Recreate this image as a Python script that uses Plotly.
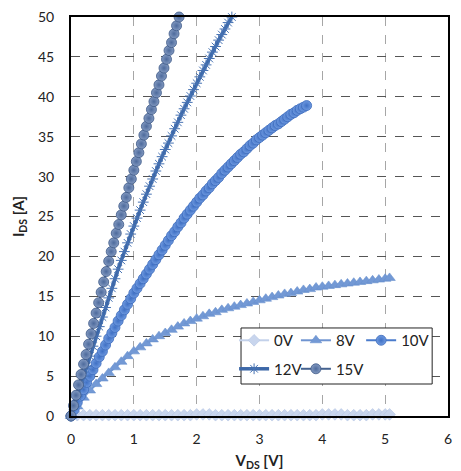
import plotly.graph_objects as go

# Output characteristics I_DS(V_DS) for several gate voltages

# V_GS = 0 V (off state, leakage only)
v_0v = [0.0, 0.1, 0.2, 0.3, 0.4, 0.5, 0.6, 0.7, 0.8, 0.9, 1.0, 1.1, 1.2, 1.3, 1.4, 1.5,
        1.6, 1.7, 1.8, 1.9, 2.0, 2.1, 2.2, 2.3, 2.4, 2.5, 2.6, 2.7, 2.8, 2.9, 3.0, 3.1,
        3.2, 3.3, 3.4, 3.5, 3.6, 3.7, 3.8, 3.9, 4.0, 4.1, 4.2, 4.3, 4.4, 4.5, 4.6, 4.7,
        4.8, 4.9, 5.0, 5.07]
i_0v = [0.0, 0.1, 0.1, 0.1, 0.1, 0.1, 0.1, 0.1, 0.1, 0.1, 0.1, 0.1, 0.1, 0.1, 0.1, 0.1,
        0.1, 0.1, 0.1, 0.1, 0.2, 0.2, 0.2, 0.1, 0.1, 0.1, 0.1, 0.1, 0.1, 0.1, 0.1, 0.1,
        0.1, 0.1, 0.1, 0.1, 0.1, 0.1, 0.1, 0.1, 0.2, 0.2, 0.2, 0.2, 0.1, 0.1, 0.1, 0.1,
        0.2, 0.2, 0.2, 0.2]

# V_GS = 8 V
v_8v = [0.0, 0.1, 0.2, 0.3, 0.4, 0.5, 0.6, 0.7, 0.8, 0.9, 1.0, 1.1, 1.2, 1.3, 1.4, 1.5,
        1.6, 1.7, 1.8, 1.9, 2.0, 2.1, 2.2, 2.3, 2.4, 2.5, 2.6, 2.7, 2.8, 2.9, 3.0, 3.1,
        3.2, 3.3, 3.4, 3.5, 3.6, 3.7, 3.8, 3.9, 4.0, 4.1, 4.2, 4.3, 4.4, 4.5, 4.6, 4.7,
        4.8, 4.9, 5.0, 5.07]
i_8v = [0.0, 1.2, 2.3, 3.2, 4.0, 4.7, 5.4, 6.1, 6.8, 7.5, 8.1, 8.6, 9.1, 9.6, 10.0, 10.4,
        10.8, 11.2, 11.6, 11.9, 12.2, 12.5, 12.8, 13.0, 13.3, 13.5, 13.7, 13.9, 14.1, 14.3,
        14.5, 14.7, 14.9, 15.1, 15.3, 15.4, 15.6, 15.8, 15.9, 16.1, 16.2, 16.3, 16.4, 16.5,
        16.6, 16.7, 16.8, 16.9, 17.0, 17.1, 17.2, 17.3]

# V_GS = 10 V
v_10v = [0.00, 0.05, 0.10, 0.15, 0.20, 0.25, 0.30, 0.35, 0.40, 0.45, 0.50, 0.55, 0.60,
         0.65, 0.70, 0.75, 0.80, 0.85, 0.90, 0.95, 1.00, 1.05, 1.10, 1.15, 1.20, 1.25,
         1.30, 1.35, 1.40, 1.45, 1.50, 1.55, 1.60, 1.65, 1.70, 1.75, 1.80, 1.85, 1.90,
         1.95, 2.00, 2.05, 2.10, 2.15, 2.20, 2.25, 2.30, 2.35, 2.40, 2.45, 2.50, 2.55,
         2.60, 2.65, 2.70, 2.75, 2.80, 2.85, 2.90, 2.95, 3.00, 3.05, 3.10, 3.15, 3.20,
         3.25, 3.30, 3.35, 3.40, 3.45, 3.50, 3.55, 3.60, 3.65, 3.70, 3.75]
i_10v = [0.0, 0.8, 1.7, 2.5, 3.3, 4.2, 5.0, 5.8, 6.6, 7.4, 8.1, 8.9, 9.7,
         10.4, 11.1, 11.9, 12.6, 13.3, 14.0, 14.7, 15.4, 16.0, 16.6, 17.2, 17.8, 18.4,
         19.0, 19.6, 20.2, 20.8, 21.4, 22.0, 22.6, 23.1, 23.7, 24.2, 24.8, 25.3, 25.8,
         26.3, 26.8, 27.3, 27.7, 28.2, 28.6, 29.1, 29.5, 29.9, 30.4, 30.8, 31.2, 31.6,
         32.0, 32.4, 32.8, 33.1, 33.5, 33.9, 34.2, 34.6, 34.9, 35.2, 35.5, 35.8, 36.1,
         36.4, 36.6, 36.9, 37.2, 37.5, 37.8, 38.0, 38.3, 38.5, 38.7, 38.9]

# V_GS = 12 V
v_12v = [0.00, 0.05, 0.10, 0.15, 0.20, 0.25, 0.30, 0.35, 0.40, 0.45, 0.50, 0.55, 0.60,
         0.65, 0.70, 0.75, 0.80, 0.85, 0.90, 0.95, 1.00, 1.05, 1.10, 1.15, 1.20, 1.25,
         1.30, 1.35, 1.40, 1.45, 1.50, 1.55, 1.60, 1.65, 1.70, 1.75, 1.80, 1.85, 1.90,
         1.95, 2.00, 2.05, 2.10, 2.15, 2.20, 2.25, 2.30, 2.35, 2.40, 2.45, 2.50, 2.56]
i_12v = [0.0, 1.25, 2.5, 3.75, 5.0, 6.25, 7.5, 8.75, 10.0, 11.2, 12.4, 13.6, 14.8,
         16.0, 17.2, 18.4, 19.5, 20.6, 21.7, 22.8, 23.8, 24.8, 25.8, 26.8, 27.8, 28.8,
         29.7, 30.7, 31.6, 32.5, 33.4, 34.2, 35.1, 36.0, 36.8, 37.7, 38.5, 39.3, 40.1,
         40.9, 41.7, 42.5, 43.3, 44.0, 44.8, 45.6, 46.3, 47.1, 47.8, 48.5, 49.3, 50.0]

# V_GS = 15 V
v_15v = [0.00, 0.04, 0.08, 0.12, 0.16, 0.20, 0.24, 0.28, 0.32, 0.36, 0.40, 0.44, 0.48,
         0.52, 0.56, 0.60, 0.64, 0.68, 0.72, 0.76, 0.80, 0.84, 0.88, 0.92, 0.96, 1.00,
         1.04, 1.08, 1.12, 1.16, 1.20, 1.24, 1.28, 1.32, 1.36, 1.40, 1.44, 1.48, 1.52,
         1.56, 1.60, 1.64, 1.68, 1.72]
i_15v = [0.0, 1.3, 2.6, 3.9, 5.2, 6.5, 7.7, 9.0, 10.3, 11.6, 12.9, 14.2, 15.5,
         16.8, 18.1, 19.4, 20.6, 21.7, 22.9, 24.0, 25.2, 26.3, 27.4, 28.6, 29.7, 30.8,
         31.9, 33.0, 34.1, 35.2, 36.3, 37.3, 38.4, 39.4, 40.5, 41.5, 42.6, 43.6, 44.7,
         45.8, 46.8, 47.9, 48.9, 50.0]

x_ticks = [0, 1, 2, 3, 4, 5, 6]
y_ticks = [0, 5, 10, 15, 20, 25, 30, 35, 40, 45, 50]

FONT = "Lato, 'Liberation Sans', sans-serif"
TEXT = "#222222"

fig = go.Figure()

# legend columns: (0V, 12V) | (8V, 15V) | (10V)
fig.add_trace(go.Scatter(
    x=v_0v, y=i_0v, name="0V", mode="lines+markers", cliponaxis=False,
    legend="legend", legendgroup="g0", legendrank=1,
    line=dict(color="#c3d1ea", width=2),
    marker=dict(symbol="diamond", size=9, color="#c8d5ed",
                line=dict(color="#b3c4e3", width=0.6)),
))
fig.add_trace(go.Scatter(
    x=v_8v, y=i_8v, name="8V", mode="lines+markers", cliponaxis=False,
    legend="legend2", legendgroup="g8", legendrank=1,
    line=dict(color="#6f94d1", width=2),
    marker=dict(symbol="triangle-up", size=10, color="#7399d5",
                line=dict(color="#6890cf", width=0.6)),
))
fig.add_trace(go.Scatter(
    x=v_10v, y=i_10v, name="10V", mode="lines+markers", cliponaxis=False,
    legend="legend3", legendgroup="g10", legendrank=1,
    line=dict(color="#4a7bcc", width=2),
    marker=dict(symbol="circle", size=10, color="#6f9ae0",
                gradient=dict(type="radial", color="#3f70c4"),
                line=dict(color="#3c6bbb", width=0.8)),
))
fig.add_trace(go.Scatter(
    x=v_12v, y=i_12v, name="12V", mode="lines+markers", cliponaxis=False,
    legend="legend", legendgroup="g12", legendrank=2,
    line=dict(color="#3d68a8", width=3.5),
    marker=dict(symbol="asterisk-open", size=9, color="#4672b3",
                line=dict(color="#4a76b8", width=1)),
))
fig.add_trace(go.Scatter(
    x=v_15v, y=i_15v, name="15V", mode="lines+markers", cliponaxis=False,
    legend="legend2", legendgroup="g15", legendrank=2,
    line=dict(color="#45628f", width=2),
    marker=dict(symbol="circle", size=10, color="#8299c0",
                gradient=dict(type="radial", color="#4d6a9c"),
                line=dict(color="#3c5887", width=0.8)),
))

legend_common = dict(
    orientation="v", xanchor="left", yanchor="top", y=0.2305,
    bgcolor="rgba(0,0,0,0)", borderwidth=0,
    font=dict(family=FONT, size=15, color=TEXT),
    itemwidth=30, tracegroupgap=6, traceorder="grouped",
)

# white framed box drawn behind the legend columns
fig.add_shape(
    type="rect", xref="x domain", yref="y domain",
    x0=0.451, x1=0.958, y0=0.0802, y1=0.2206,
    fillcolor="white", line=dict(color=TEXT, width=1), layer="above",
)

fig.update_layout(
    width=461, height=471,
    margin=dict(l=71, r=13, t=17, b=55, autoexpand=False),
    paper_bgcolor="white", plot_bgcolor="white",
    font=dict(family=FONT, size=14, color=TEXT),
    showlegend=True,
    legend=dict(x=0.4326, **legend_common),
    legend2=dict(x=0.5966, **legend_common),
    legend3=dict(x=0.7696, **legend_common),
)

fig.update_xaxes(
    range=[0, 6], tickvals=x_ticks, ticktext=[str(t) for t in x_ticks],
    showline=True, linecolor="black", linewidth=2, mirror=True,
    showgrid=True, gridcolor="#a6a6a6", griddash="dash", gridwidth=1,
    zeroline=False, ticks="", ticklabelstandoff=9, automargin=False,
    tickfont=dict(size=14, color=TEXT),
    title=dict(text="<b>V<sub>DS</sub> [V]</b>", standoff=12,
               font=dict(size=15, color=TEXT)),
)
fig.update_yaxes(
    range=[0, 50], tickvals=y_ticks, ticktext=[str(t) for t in y_ticks],
    showline=True, linecolor="black", linewidth=2, mirror=True,
    showgrid=True, gridcolor="#555555", griddash="dash", gridwidth=1,
    zeroline=False, ticks="", ticklabelstandoff=12, automargin=False,
    tickfont=dict(size=14, color=TEXT),
    title=dict(text="<b>I<sub>DS</sub> [A]</b>", standoff=10,
               font=dict(size=15, color=TEXT)),
)

fig.write_html("out.html")
